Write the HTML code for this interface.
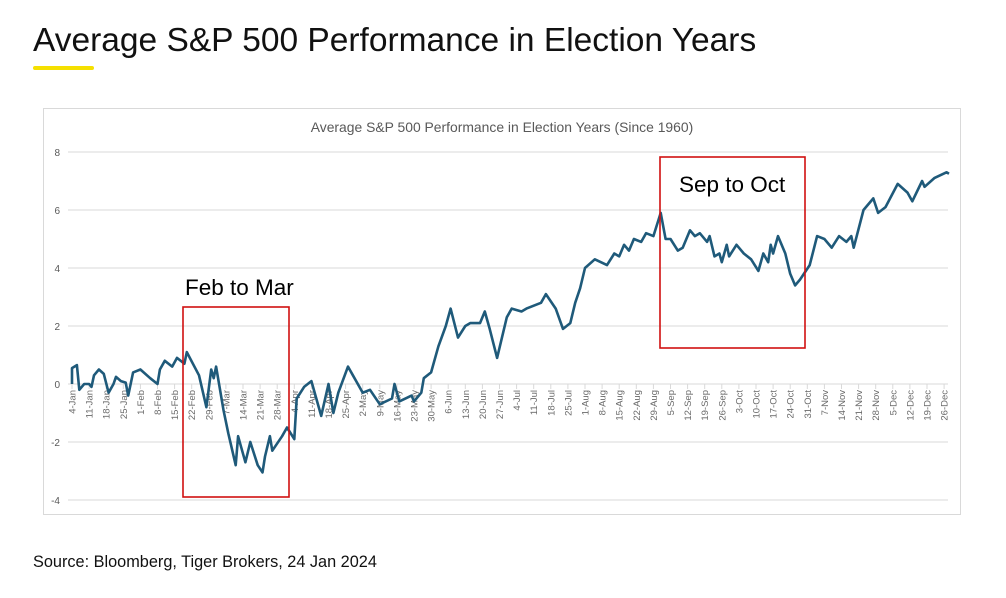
<!DOCTYPE html>
<html><head><meta charset="utf-8"><style>
body{margin:0;width:1006px;height:598px;background:#fff;font-family:"Liberation Sans",sans-serif;position:relative;overflow:hidden}
#t{position:absolute;left:33px;top:22px;font-size:33.5px;color:#111}
#u{position:absolute;left:33px;top:66px;width:61px;height:4px;background:#f5e000;border-radius:2px}
#s{position:absolute;left:33px;top:553px;font-size:16.3px;color:#111}
</style></head><body>
<div id="t">Average S&amp;P 500 Performance in Election Years</div>
<div id="u"></div>
<svg id="c" width="1006" height="598" style="position:absolute;left:0;top:0"></svg>
<div id="s">Source: Bloomberg, Tiger Brokers, 24 Jan 2024</div>
<script>
const days=[0,0,2,3,5,7,8,9,11,13,15,17,18,20,22,23,25,28,32,35,36,38,41,43,46,47,52,55,57,58,59,62,64,67,68,71,73,76,78,79,81,82,86,88,91,92,95,98,102,105,107,109,113,115,119,122,126,131,132,134,139,140,143,144,147,150,153,155,158,161,163,167,169,171,174,178,180,184,186,192,194,198,201,204,206,208,210,214,219,222,224,226,228,230,233,235,238,241,243,245,248,250,253,255,257,260,261,263,265,266,268,269,272,275,278,281,283,285,286,287,289,292,294,296,298,302,305,308,311,314,317,319,320,324,328,330,333,338,342,344,348,349,353,358,359];
const values=[0,0.55,0.65,-0.2,0,0,-0.1,0.3,0.5,0.35,-0.3,0,0.25,0.1,0.05,-0.4,0.4,0.5,0.2,0,0.5,0.8,0.6,0.9,0.7,1.1,0.3,-0.8,0.5,0.2,0.6,-0.9,-1.7,-2.8,-1.8,-2.7,-2,-2.8,-3.05,-2.5,-1.8,-2.3,-1.8,-1.5,-1.9,-0.5,-0.1,0.1,-1.1,0,-1.0,-0.3,0.6,0.3,-0.3,-0.2,-0.7,-0.5,0,-0.6,-0.4,-0.6,-0.3,0.2,0.4,1.3,2.0,2.6,1.6,2.0,2.1,2.1,2.5,1.9,0.9,2.3,2.6,2.5,2.6,2.8,3.1,2.6,1.9,2.1,2.8,3.3,4.0,4.3,4.1,4.5,4.4,4.8,4.6,5.0,4.9,5.2,5.1,5.9,5.0,5.0,4.6,4.7,5.3,5.1,5.2,4.9,5.1,4.4,4.5,4.2,4.8,4.4,4.8,4.5,4.3,3.9,4.5,4.2,4.8,4.5,5.1,4.5,3.8,3.4,3.6,4.1,5.1,5.0,4.7,5.1,4.9,5.1,4.7,6.0,6.4,5.9,6.1,6.9,6.6,6.3,7.0,6.8,7.1,7.3,7.25];
const yTicks=[8,6,4,2,0,-2,-4];
const xLabels=["4-Jan","11-Jan","18-Jan","25-Jan","1-Feb","8-Feb","15-Feb","22-Feb","29-Feb","7-Mar","14-Mar","21-Mar","28-Mar","4-Apr","11-Apr","18-Apr","25-Apr","2-May","9-May","16-May","23-May","30-May","6-Jun","13-Jun","20-Jun","27-Jun","4-Jul","11-Jul","18-Jul","25-Jul","1-Aug","8-Aug","15-Aug","22-Aug","29-Aug","5-Sep","12-Sep","19-Sep","26-Sep","3-Oct","10-Oct","17-Oct","24-Oct","31-Oct","7-Nov","14-Nov","21-Nov","28-Nov","5-Dec","12-Dec","19-Dec","26-Dec"];
const NS="http://www.w3.org/2000/svg",svg=document.getElementById('c');
const X=d=>72+d*17.1/7, Y=v=>384-v*29;
function mk(t,a,p){const e=document.createElementNS(NS,t);for(const k in a)e.setAttribute(k,a[k]);(p||svg).appendChild(e);return e;}
const frame=mk('rect',{x:43.5,y:108.5,width:917,height:406,fill:'#fff',stroke:'#d9d9d9'});


const ct=mk('text',{x:502,y:132,'text-anchor':'middle','font-size':13.9,fill:'#595959'});
ct.textContent='Average S&P 500 Performance in Election Years (Since 1960)';


yTicks.forEach(v=>{
  const g=mk('line',{x1:68,x2:948,y1:Y(v),y2:Y(v),stroke:'#d9d9d9'});
  
  
  const t=mk('text',{x:60,y:Y(v)+4,'text-anchor':'end','font-size':10,fill:'#595959'});
  t.textContent=v;
  
  
});
xLabels.forEach((l,i)=>{
  const x=X(i*7);
  const tk=mk('line',{x1:x,x2:x,y1:384,y2:389,stroke:'#d9d9d9'});
  
  
  const t=mk('text',{x:0,y:0,'text-anchor':'end','font-size':9.5,fill:'#6a6a6a',transform:`translate(${x+3.5},390) rotate(-90)`});
  t.textContent=l;
  
  
});
const line=mk('path',{d:days.map((d,i)=>(i?'L':'M')+X(d).toFixed(1)+','+Y(values[i]).toFixed(1)).join(''),fill:'none',stroke:'#1f5a7a','stroke-width':2.6,'stroke-linejoin':'round'});


[[183,307,106,190,'Feb to Mar',185,295,'feb-mar'],[660,157,145,191,'Sep to Oct',679,192,'sep-oct']].forEach(b=>{
  const r=mk('rect',{x:b[0],y:b[1],width:b[2],height:b[3],fill:'none',stroke:'#d01010','stroke-width':1.6});
  
  
  const t=mk('text',{x:b[5],y:b[6],'font-size':22.5,fill:'#000'});
  t.textContent=b[4];
  
  
});
</script>
</body></html>
